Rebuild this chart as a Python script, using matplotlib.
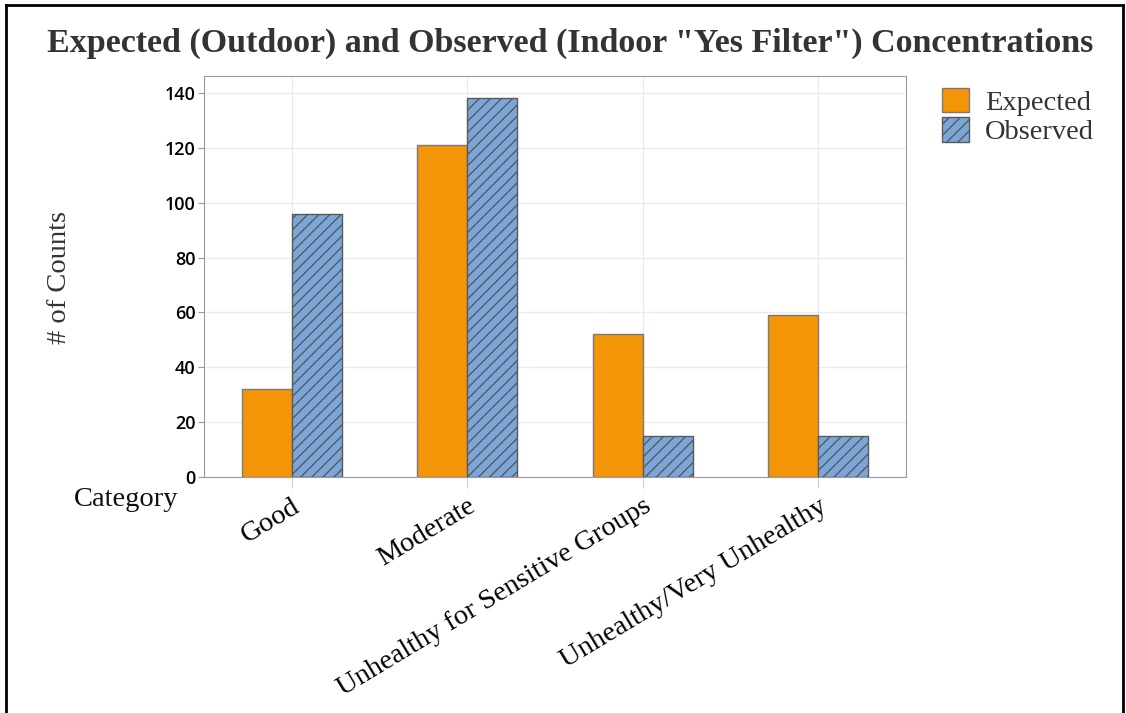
import matplotlib.pyplot as plt
import numpy as np

# Данные
categories = ["Good", "Moderate", "Unhealthy for Sensitive Groups", "Unhealthy/Very Unhealthy"]
expected = [32, 121, 52, 59]
observed = [96, 138, 15, 15]
y_ticks = [0, 20, 40, 60, 80, 100, 120, 140]

plt.rcParams['hatch.linewidth'] = 1.0
plt.rcParams['hatch.color'] = '#555555'

fig = plt.figure(figsize=(11.26, 7.13), dpi=100)
ax = fig.add_axes([204 / 1126, 1 - 477 / 713, (906 - 204) / 1126, (477 - 76) / 713])

x = np.arange(len(categories))
w = 0.285
ax.bar(x - w / 2, expected, w, color='#F39506', edgecolor='#7a7a7a', linewidth=1, label='Expected', zorder=3)
ax.bar(x + w / 2, observed, w, color='#7BA6DA', edgecolor='#5a5a5a', linewidth=1, hatch='///', label='Observed', zorder=3)

ax.set_xlim(-0.5, 3.5)
ax.set_ylim(0, 146.2)
ax.set_yticks(y_ticks)
ax.set_yticklabels([str(v) for v in y_ticks], fontfamily='Open Sans', fontsize=13, fontweight='semibold')
ax.set_xticks(x)
ax.set_xticklabels(categories, rotation=31, ha='right', rotation_mode='anchor',
                   fontfamily='Liberation Serif', fontsize=20.5)
ax.grid(True, color='#ebebeb', linewidth=1, zorder=0)
for s in ax.spines.values():
    s.set_color('#9a9a9a')
ax.tick_params(axis='x', length=8, color='#cccccc', pad=4)
ax.tick_params(axis='y', length=4, color='#9a9a9a', pad=2)

fig.text(60 / 1126, 1 - 278 / 713, '# of Counts', rotation=90, ha='center', va='center',
         fontfamily='Liberation Serif', fontsize=20.5, color='#333333')
fig.text(178 / 1126, 1 - 500 / 713, 'Category', ha='right', va='center',
         fontfamily='Liberation Serif', fontsize=20.5, color='#111111')

fig.suptitle('Expected (Outdoor) and Observed (Indoor "Yes Filter") Concentrations',
             x=570 / 1126, y=1 - 43 / 713, va='center', fontfamily='Liberation Serif',
             fontsize=24.5, fontweight='bold', color='#333333')

leg = ax.legend(loc='upper left', bbox_to_anchor=(1.023, 1.02), frameon=False,
                prop={'family': 'Liberation Serif', 'size': 20.5}, handlelength=0.95,
                handleheight=0.95, handletextpad=0.55, labelspacing=0.05, borderaxespad=0.3)
for t in leg.get_texts():
    t.set_color('#333333')

# Рамка вокруг рисунка
fig.add_artist(plt.Line2D([6 / 1126, 6 / 1126], [0, 1 - 5 / 713], color='black', linewidth=2, transform=fig.transFigure))
fig.add_artist(plt.Line2D([6 / 1126, 1123 / 1126], [1 - 5 / 713, 1 - 5 / 713], color='black', linewidth=2, transform=fig.transFigure))
fig.add_artist(plt.Line2D([1123 / 1126, 1123 / 1126], [0, 1 - 5 / 713], color='black', linewidth=2, transform=fig.transFigure))

fig.savefig('out.png', dpi=100)
